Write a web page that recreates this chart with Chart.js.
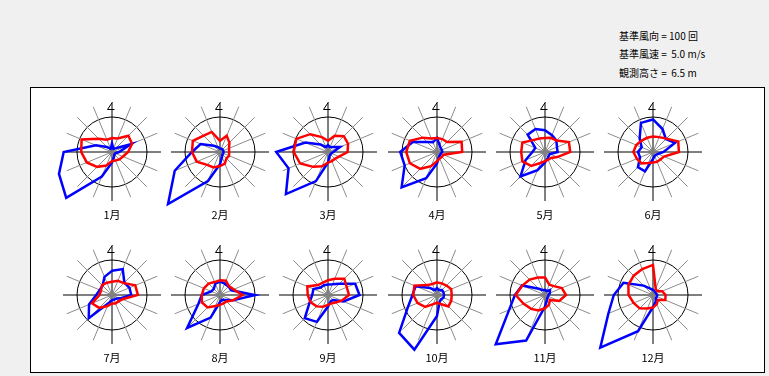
<!DOCTYPE html>
<html lang="ja">
<head>
  <meta charset="UTF-8"/>
  <title>月別風配図</title>
  <script src="https://cdn.jsdelivr.net/npm/chart.js"></script>
  <style>
    body { margin: 0; width: 769px; height: 376px; background: #f0f0f0; position: relative; overflow: hidden;
           font-family: 'Noto Sans CJK JP', sans-serif; color: #000; }
    #frame { position: absolute; left: 30px; top: 87px; width: 733px; height: 284px; border: 1px solid #000; background: #fff; }
    .note { position: absolute; left: 619px; font-size: 10px; line-height: 14px; white-space: pre; }
    .rose { position: absolute; }
    .month { position: absolute; width: 60px; text-align: center; font-size: 11px; line-height: 16px; }
  </style>
</head>
<body>
  <div id="frame"></div>
  <div class="note" style="top:29px">基準風向 = 100 回</div>
  <div class="note" style="top:47px">基準風速 =  5.0 m/s</div>
  <div class="note" style="top:66px">観測高さ =  6.5 m</div>

  <script>
    // 16方位 (北から時計回り)
    const directions = ['N','NNE','NE','ENE','E','ESE','SE','SSE','S','SSW','SW','WSW','W','WNW','NW','NNW'];
    const months = ['1月','2月','3月','4月','5月','6月','7月','8月','9月','10月','11月','12月'];
    const refCount = 100;   // 基準風向 (回)
    const refSpeed = 5.0;   // 基準風速 (m/s)

    // 風向出現回数 (青)
    const freq01 = [25,10,15,58,20,10,10,15,30,76,185,164,138,50,20,10];
    const freq02 = [10,10,10,10,10,10,10,15,35,90,210,140,80,60,25,15];
    const freq03 = [20,15,20,37,15,10,10,12,30,90,170,122,148,70,30,15];
    const freq04 = [40,20,15,15,15,12,12,15,33,81,143,100,105,75,40,30];
    const freq05 = [62,52,46,37,36,15,15,20,30,56,99,60,36,30,70,71];
    const freq06 = [93,71,52,68,30,15,12,12,20,60,61,40,43,35,54,90];
    const freq07 = [69,80,50,54,55,25,15,15,15,25,94,71,45,38,38,56];
    const freq08 = [38,35,34,35,100,40,20,15,20,70,133,67,52,27,25,35];
    const freq09 = [30,33,45,84,90,48,20,20,33,83,94,57,45,45,30,30];
    const freq10 = [20,15,20,20,20,20,17,20,60,169,153,90,70,66,28,15];
    const freq11 = [15,12,20,15,10,10,10,15,33,141,199,111,86,71,25,15];
    const freq12 = [15,12,10,10,12,12,12,20,35,112,213,138,112,91,38,20];

    // 平均風速 m/s (赤)
    const speed01 = [2.0,2.1,3.3,3.1,2.3,1.7,1.5,1.3,1.3,2.1,3.0,3.9,4.4,4.7,2.7,1.9];
    const speed02 = [1.6,2.5,1.9,1.4,1.3,1.4,1.3,1.8,2.0,2.4,2.6,3.6,4.0,4.2,3.3,3.1];
    const speed03 = [1.6,2.5,3.2,3.1,2.8,1.7,1.4,1.4,1.5,2.2,3.0,4.3,4.9,4.9,3.6,2.3];
    const speed04 = [2.0,2.0,2.0,3.8,3.6,1.0,1.0,1.0,1.3,2.2,3.4,4.2,4.4,4.2,2.9,2.1];
    const speed05 = [2.0,2.2,2.3,3.7,3.6,1.9,1.2,1.2,1.3,1.7,2.8,3.5,3.4,3.5,2.4,2.1];
    const speed06 = [2.2,2.3,2.7,3.9,3.7,1.7,1.5,1.5,1.5,1.7,2.3,2.5,2.8,2.6,2.3,2.2];
    const speed07 = [1.9,2.2,2.4,3.6,3.7,1.6,1.3,1.3,1.2,1.7,2.6,3.1,1.8,1.7,2.0,1.9];
    const speed08 = [2.1,2.2,1.8,2.1,3.2,2.0,1.3,1.3,1.4,1.7,2.5,2.8,2.6,2.5,2.3,2.0];
    const speed09 = [2.1,2.5,3.3,2.9,3.0,2.1,1.5,1.3,1.4,1.8,2.3,2.7,2.9,3.2,2.0,1.9];
    const speed10 = [1.8,1.8,1.9,2.2,2.1,2.2,2.3,1.4,1.1,1.4,2.4,3.0,3.4,3.5,2.0,1.7];
    const speed11 = [2.5,1.6,1.8,2.6,3.0,2.2,1.0,1.5,1.9,2.4,2.8,3.3,4.2,3.5,3.1,2.7];
    const speed12 = [4.3,1.0,0.8,1.4,1.8,1.9,1.0,1.4,1.8,2.1,2.7,3.0,3.5,3.8,3.9,4.0];

    const freqs = [freq01,freq02,freq03,freq04,freq05,freq06,freq07,freq08,freq09,freq10,freq11,freq12];
    const speeds = [speed01,speed02,speed03,speed04,speed05,speed06,speed07,speed08,speed09,speed10,speed11,speed12];

    // layout
    const colX = [112, 220, 328, 437, 545, 653];
    const rowY = [152, 295];
    const SIZE = 160, RING = 35, SPOKE = 49;

    // north mark + calm dot
    const roseDeco = {
      id: 'roseDeco',
      beforeDatasetsDraw(chart) {
        const s = chart.scales.r, ctx = chart.ctx;
        ctx.save();
        ctx.fillStyle = '#808080';
        ctx.beginPath();
        ctx.arc(s.xCenter, s.yCenter, 3, 0, Math.PI * 2);
        ctx.fill();
        ctx.restore();
      },
      afterDraw(chart) {
        const s = chart.scales.r, ctx = chart.ctx;
        ctx.save();
        ctx.strokeStyle = '#000';
        ctx.lineWidth = 1;
        ctx.beginPath();
        ctx.moveTo(s.xCenter + 0.5, s.yCenter - 50);
        ctx.lineTo(s.xCenter - 4.5, s.yCenter - 42.5);
        ctx.lineTo(s.xCenter + 2.5, s.yCenter - 42.5);
        ctx.stroke();
        ctx.restore();
      }
    };

    months.forEach((m, i) => {
      const cx = colX[i % 6], cy = rowY[Math.floor(i / 6)];
      const cv = document.createElement('canvas');
      cv.className = 'rose';
      cv.width = SIZE; cv.height = SIZE;
      cv.style.left = (cx - SIZE / 2) + 'px';
      cv.style.top = (cy - SIZE / 2) + 'px';
      document.body.appendChild(cv);

      const lbl = document.createElement('div');
      lbl.className = 'month';
      lbl.textContent = m;
      lbl.style.left = (cx - 30) + 'px';
      lbl.style.top = (cy + 54) + 'px';
      document.body.appendChild(lbl);

      new Chart(cv, {
        type: 'radar',
        data: {
          labels: directions,
          datasets: [
            { label: '風速', data: speeds[i].map(v => v / refSpeed), borderColor: '#ff0000', borderWidth: 2.5,
              fill: false, pointRadius: 0, clip: false },
            { label: '風向', data: freqs[i].map(v => v / refCount), borderColor: '#0000ff', borderWidth: 2.5,
              fill: false, pointRadius: 0, clip: false }
          ]
        },
        options: {
          responsive: false,
          animation: false,
          devicePixelRatio: 1,
          layout: { padding: SIZE / 2 - SPOKE },
          plugins: { legend: { display: false }, tooltip: { enabled: false } },
          scales: {
            r: {
              min: 0,
              max: SPOKE / RING,
              startAngle: 0,
              ticks: { display: false },
              pointLabels: { display: false },
              grid: { circular: true, color: '#000', lineWidth: 1 },
              angleLines: { color: c => c.index % 4 === 0 ? '#000' : '#8c8c8c', lineWidth: 1 },
              afterBuildTicks: s => { s.ticks = [{ value: 0 }, { value: 1 }]; }
            }
          }
        },
        plugins: [roseDeco]
      });
    });
  </script>
</body>
</html>
